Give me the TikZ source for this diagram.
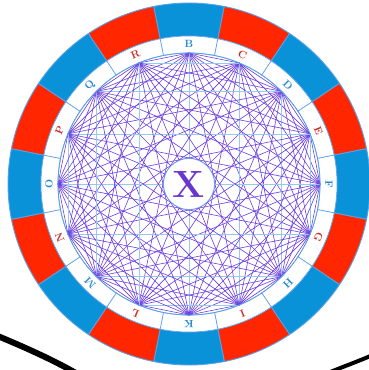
\documentclass[tikz,border=0pt]{standalone}
\usepackage{tikz}
\definecolor{segred}{RGB}{255,38,0}
\definecolor{segblue}{RGB}{10,146,216}
\definecolor{rimblue}{RGB}{90,160,232}
\definecolor{chordcol}{RGB}{108,62,224}
\definecolor{gridblue}{RGB}{150,200,240}
\definecolor{letred}{RGB}{205,45,35}
\definecolor{letblue}{RGB}{35,135,210}
\definecolor{xpurple}{RGB}{105,55,205}

\begin{document}
\begin{tikzpicture}[x=1pt, y=1pt, every node/.style={font=\bfseries}]
\useasboundingbox (-189,-186) rectangle (179,184);
% black curves below the wheel
\draw[line width=6pt, line cap=round] (-196,-150) .. controls (-165,-163) and (-135,-176) .. (-108,-192);
\draw[line width=4pt] (132,-192) .. controls (150,-184) and (168,-178) .. (186,-170);
% outer ring and letter ring
\foreach \k in {0,...,15} {
  \pgfmathsetmacro{\a}{90-22.5*\k}
  \ifodd\k\relax \def\segcol{segred}\else \def\segcol{segblue}\fi
  \filldraw[fill=\segcol, draw=rimblue, line width=0.9pt] (\a+11.25:181) arc[start angle=\a+11.25, end angle=\a-11.25, radius=181]
    -- (\a-11.25:148) arc[start angle=\a-11.25, end angle=\a+11.25, radius=148] -- cycle;
  \filldraw[fill=white, draw=rimblue, line width=0.6pt] (\a+11.25:148) arc[start angle=\a+11.25, end angle=\a-11.25, radius=148]
    -- (\a-11.25:131) arc[start angle=\a-11.25, end angle=\a+11.25, radius=131] -- cycle;
}
\foreach \k/\ltr in {0/B,1/C,2/D,3/E,4/F,5/G,6/H,7/I,8/K,9/L,10/M,11/N,12/O,13/P,14/Q,15/R} {
  \pgfmathsetmacro{\a}{90-22.5*\k}
  \ifodd\k\relax \def\letcol{letred}\else \def\letcol{letblue}\fi
  \node[text=\letcol, font=\fontsize{10.5}{10.5}\selectfont\bfseries, rotate=\a-90, inner sep=0pt] (l\k) at (\a:140) {\ltr};
  \coordinate (v\k) at (\a:131);
}
% chords
\foreach \i in {0,...,14} {
  \pgfmathtruncatemacro{\n}{\i+1}
  \foreach \j in {\n,...,15} {
    \pgfmathtruncatemacro{\s}{mod(\i+\j,8)}
    \ifnum\s=0 \def\chcol{gridblue}\else \def\chcol{chordcol}\fi
    \draw[\chcol, line width=0.6pt] (v\i) -- (v\j);
  }
}
\draw[rimblue, line width=0.8pt] (0,0) circle (131);
\node[circle, fill=white, draw=rimblue, line width=0.6pt, minimum size=51pt, inner sep=0pt, text=xpurple, font=\fontsize{38}{38}\selectfont\bfseries] (x) at (0,0) {X};
\end{tikzpicture}
\end{document}
